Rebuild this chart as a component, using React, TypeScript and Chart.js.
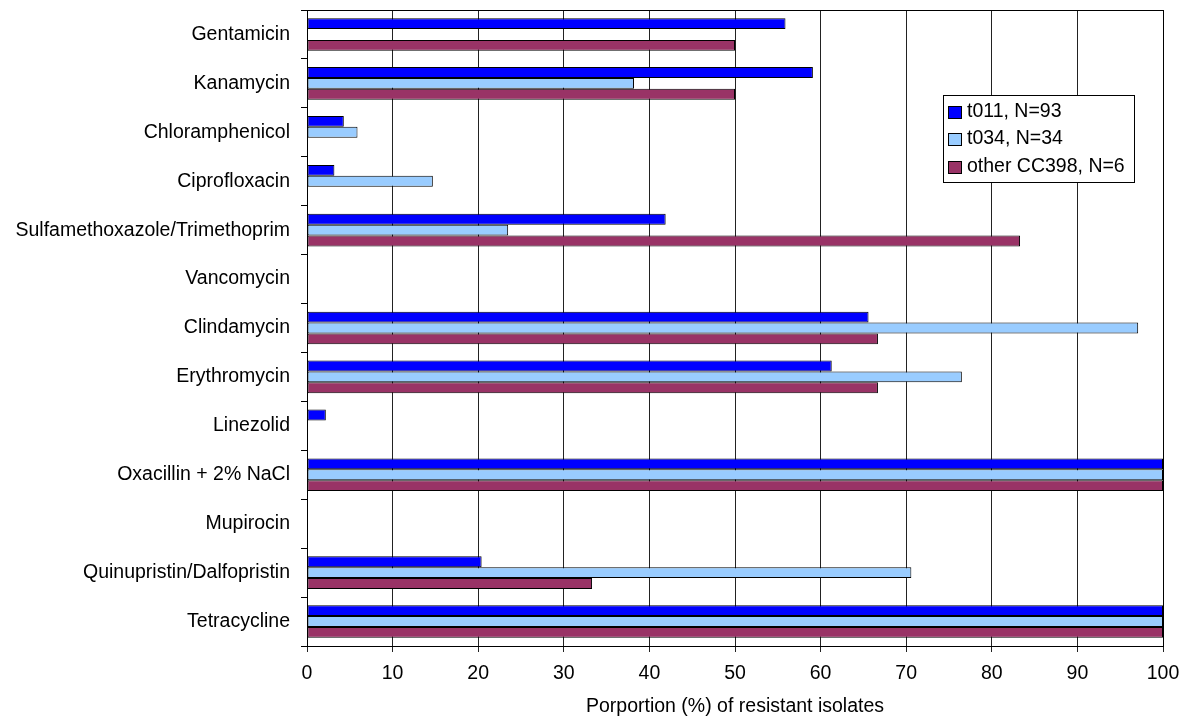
import React, { useEffect, useRef } from "react";
import { Chart, registerables } from "chart.js";

Chart.register(...registerables);

const categories = [
  "Gentamicin",
  "Kanamycin",
  "Chloramphenicol",
  "Ciprofloxacin",
  "Sulfamethoxazole/Trimethoprim",
  "Vancomycin",
  "Clindamycin",
  "Erythromycin",
  "Linezolid",
  "Oxacillin + 2% NaCl",
  "Mupirocin",
  "Quinupristin/Dalfopristin",
  "Tetracycline",
];

const seriesNames = ["t011, N=93", "t034, N=34", "other CC398, N=6"];
const seriesColors = ["#0000FF", "#99CCFF", "#993366"];

const t011 = [55.9, 59.1, 4.3, 3.2, 41.9, 0, 65.6, 61.3, 2.2, 100, 0, 20.4, 100];
const t034 = [0, 38.2, 5.9, 14.7, 23.5, 0, 97.1, 76.5, 0, 100, 0, 70.6, 100];
const otherCC398 = [50, 50, 0, 0, 83.3, 0, 66.7, 66.7, 0, 100, 0, 33.3, 100];

const xTicks = [0, 10, 20, 30, 40, 50, 60, 70, 80, 90, 100];
const xTitle = "Porportion (%) of resistant isolates";

const FONT = "'Liberation Sans', Arial, sans-serif";
const FSIZE = 19.5;

const borderPlugin = {
  id: "plotBorder",
  afterDatasetsDraw(chart: any) {
    const { ctx, chartArea } = chart;
    ctx.save();
    ctx.strokeStyle = "#000";
    ctx.lineWidth = 1;
    ctx.strokeRect(
      Math.round(chartArea.left) + 0.5,
      Math.round(chartArea.top) + 0.5,
      Math.round(chartArea.right) - Math.round(chartArea.left),
      Math.round(chartArea.bottom) - Math.round(chartArea.top)
    );
    ctx.restore();
  },
};

const legendPlugin = {
  id: "boxLegend",
  afterDraw(chart: any) {
    const { ctx } = chart;
    const x = 943.5;
    const y = 95.5;
    const w = 191;
    const h = 87;
    ctx.save();
    ctx.fillStyle = "#fff";
    ctx.fillRect(x, y, w, h);
    ctx.strokeStyle = "#000";
    ctx.lineWidth = 1;
    ctx.strokeRect(x, y, w, h);
    ctx.font = `${FSIZE}px ${FONT}`;
    ctx.textBaseline = "middle";
    ctx.textAlign = "left";
    seriesNames.forEach((name, i) => {
      const cy = 111.5 + i * 27.5;
      ctx.fillStyle = seriesColors[i];
      ctx.fillRect(948.5, Math.round(cy - 6) + 0.5, 13, 12);
      ctx.strokeStyle = "#000";
      ctx.strokeRect(948.5, Math.round(cy - 6) + 0.5, 13, 12);
      ctx.fillStyle = "#000";
      ctx.fillText(name, 967, cy);
    });
    ctx.restore();
  },
};

export default function App() {
  const ref = useRef<HTMLCanvasElement>(null);

  useEffect(() => {
    if (!ref.current) return;
    const seriesData = [t011, t034, otherCC398];
    const chart = new Chart(ref.current, {
      type: "bar",
      data: {
        labels: categories,
        datasets: seriesNames.map((name, i) => ({
          label: name,
          data: seriesData[i].map((v) => (v === 0 ? null : v)),
          backgroundColor: seriesColors[i],
          borderColor: "#000",
          borderWidth: 1,
          borderSkipped: false,
          categoryPercentage: 0.667,
          barPercentage: 1,
        })),
      },
      options: {
        indexAxis: "y",
        responsive: false,
        devicePixelRatio: 1,
        animation: false,
        layout: { padding: { top: 10, right: 24, left: 0, bottom: 0 } },
        plugins: {
          legend: { display: false },
          tooltip: { enabled: false },
        },
        scales: {
          x: {
            type: "linear",
            min: 0,
            max: 100,
            afterBuildTicks: (scale: any) => {
              scale.ticks = xTicks.map((v) => ({ value: v }));
            },
            afterFit: (scale: any) => {
              scale.height = 73;
              scale.paddingLeft = 0;
              scale.paddingRight = 0;
            },
            ticks: {
              color: "#000",
              font: { family: FONT, size: FSIZE },
              padding: 10,
              maxRotation: 0,
            },
            grid: {
              color: "#222",
              lineWidth: 1,
              drawTicks: true,
              tickLength: 6,
            },
            border: { color: "#000", width: 1 },
            title: {
              display: true,
              text: xTitle,
              color: "#000",
              font: { family: FONT, size: FSIZE },
              padding: { top: 0, bottom: 1 },
            },
          },
          y: {
            type: "category",
            afterFit: (scale: any) => {
              scale.width = 307;
              scale.paddingTop = 0;
              scale.paddingBottom = 0;
            },
            ticks: {
              color: "#000",
              font: { family: FONT, size: FSIZE },
              padding: 11,
              autoSkip: false,
            },
            grid: {
              drawOnChartArea: false,
              drawTicks: true,
              tickLength: 6,
              color: "#000",
              offset: true,
            },
            border: { color: "#000", width: 1 },
          },
        },
      },
      plugins: [borderPlugin, legendPlugin],
    });
    return () => chart.destroy();
  }, []);

  return (
    <div style={{ position: "absolute", left: 0, top: 0, width: 1187, height: 719, background: "#fff" }}>
      <canvas ref={ref} width={1187} height={719} />
    </div>
  );
}
